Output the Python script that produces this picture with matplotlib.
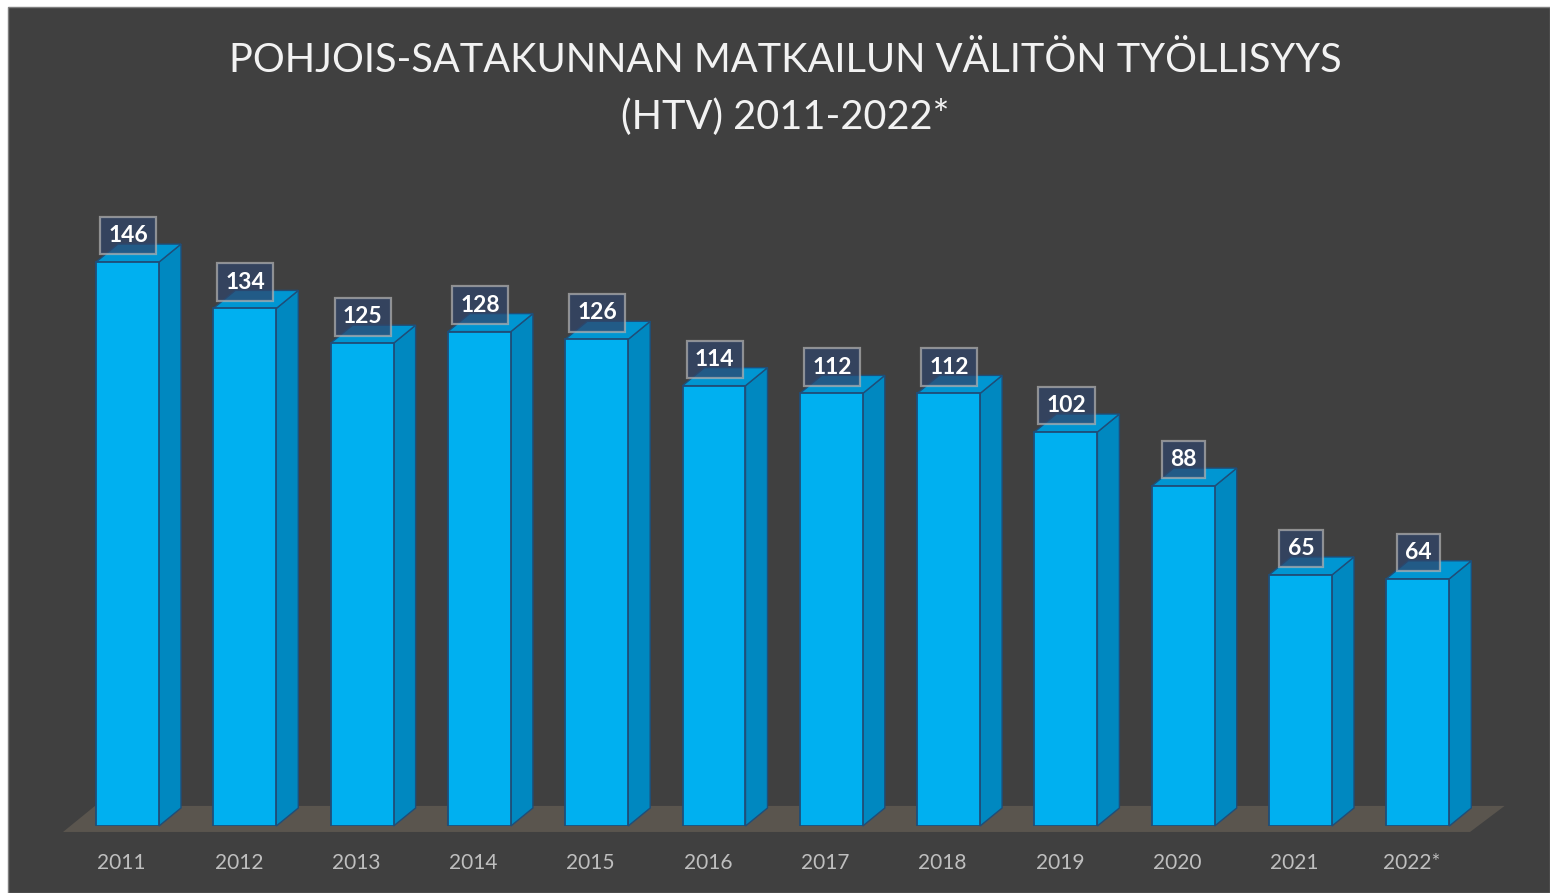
import matplotlib
matplotlib.use("Agg")
import matplotlib.pyplot as plt
from matplotlib.patches import Polygon, Rectangle
from matplotlib.transforms import ScaledTranslation

# tourism employment (FTE) by year
years = ["2011", "2012", "2013", "2014", "2015", "2016",
         "2017", "2018", "2019", "2020", "2021", "2022*"]
htv = [146, 134, 125, 128, 126, 114, 112, 112, 102, 88, 65, 64]

title_1 = "POHJOIS-SATAKUNNAN MATKAILUN VÄLITÖN TYÖLLISYYS"
title_2 = "(HTV) 2011-2022*"

front_col = "#00b0f0"
side_col = "#0088c0"
top_col = "#0096d2"
edge_col = "#1f4e79"
floor_col = "#5a554e"
bg_col = "#404040"

plt.rcParams["font.family"] = ["Lato", "DejaVu Sans"]

fig = plt.figure(figsize=(15.5, 8.93), dpi=100, facecolor="white")
# dark panel with thin white margin at top/left
fig.patches.append(Rectangle((8 / 1550, 0), 1 - 8 / 1550, 1 - 7 / 893,
                             transform=fig.transFigure, facecolor=bg_col,
                             edgecolor="#7f7f7f", linewidth=1.0, zorder=-1))

ax = fig.add_axes([0.04442, 0.07503, 0.90813, 0.69205], zorder=2)
ax.set_facecolor("none")
ax.set_xlim(-0.5, 11.5)
ax.set_ylim(0, 160)
for s in ax.spines.values():
    s.set_visible(False)
ax.set_yticks([])

w = 0.537   # bar width
dx = 0.1876  # depth offset, x
dy = 4.66    # depth offset, y

# floor
ax.add_patch(Polygon([(-0.55, -1.55), (11.445, -1.55), (11.74, 5.2), (-0.277, 5.2)],
                     closed=True, facecolor=floor_col, edgecolor="none",
                     zorder=1, clip_on=False))

xs = list(range(len(years)))
ax.bar(xs, htv, width=w, color=front_col, edgecolor=edge_col,
       linewidth=1.3, zorder=3)

for x, v in zip(xs, htv):
    r = x + w / 2
    l = x - w / 2
    ax.add_patch(Polygon([(r, 0), (r + dx, dy), (r + dx, v + dy), (r, v)],
                         closed=True, facecolor=side_col, edgecolor=edge_col,
                         linewidth=1.0, zorder=2, clip_on=False))
    ax.add_patch(Polygon([(l, v), (r, v), (r + dx, v + dy), (l + dx, v + dy)],
                         closed=True, facecolor=top_col, edgecolor=edge_col,
                         linewidth=1.0, zorder=2, clip_on=False))
    ax.annotate(str(v), (x, v), xytext=(0.4, 19), textcoords="offset points",
                ha="center", va="center", color="white", fontsize=16.5,
                fontweight="bold", zorder=5,
                bbox=dict(boxstyle="square,pad=0.36", facecolor="#30456a",
                          alpha=0.72, edgecolor="#b0b0b0", linewidth=1.6))

ax.set_xticks(xs)
ax.set_xticklabels(years, color="#bfbfbf", fontsize=15)
ax.tick_params(axis="x", length=0, pad=19.5)
for lab in ax.get_xticklabels():
    lab.set_transform(lab.get_transform() + ScaledTranslation(-0.06, 0, fig.dpi_scale_trans))

fig.text(0.5065, 1 - 60 / 893, title_1, ha="center", va="center",
         color="#f2f2f2", fontsize=28.6)
fig.text(0.5065, 1 - 117 / 893, title_2, ha="center", va="center",
         color="#f2f2f2", fontsize=28.6)

fig.savefig("out.png", dpi=100, facecolor=fig.get_facecolor())
